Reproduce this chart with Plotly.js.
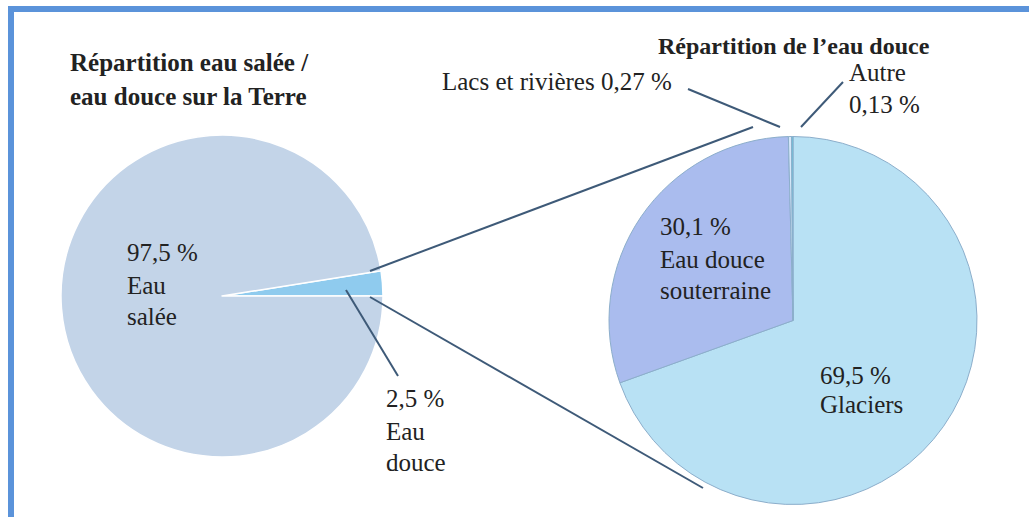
<!DOCTYPE html>
<html>
<head>
<meta charset="utf-8">
<script src="https://cdn.plot.ly/plotly-3.0.1.min.js"></script>
<style>
html,body{margin:0;padding:0;background:#fff;}
#chart{width:1029px;height:517px;}
</style>
</head>
<body>
<div id="chart"></div>
<script>
// ---- data ----
const earthLabels = ["Eau douce", "Eau salée"];
const earthValues = [2.5, 97.5];
const freshLabels = ["Glaciers", "Eau douce souterraine", "Lacs et rivières", "Autre"];
const freshValues = [69.5, 30.1, 0.27, 0.13];
const leftTitle = ["Répartition eau salée /", "eau douce sur la Terre"];
const rightTitle = "Répartition de l’eau douce";

// ---- helpers (pixel -> paper) ----
const W = 1029, H = 517;
const px = x => x / W;
const py = y => 1 - y / H;
const fmt = v => String(v).replace('.', ',') + ' %';

const serif = "Liberation Serif";
const txt = "#222222";

const traces = [
  {
    type: 'pie', values: earthValues, labels: earthLabels, sort: false,
    direction: 'clockwise', rotation: 90 - earthValues[0] * 3.6,
    marker: {colors: ['#8FCBEE', '#C3D4E8'], line: {color: '#ffffff', width: 1.5}},
    textinfo: 'none', hoverinfo: 'none', showlegend: false,
    domain: {x: [px(61), px(383)], y: [py(457), py(135)]}
  },
  {
    type: 'pie', values: freshValues, labels: freshLabels, sort: false,
    direction: 'clockwise', rotation: 0,
    marker: {colors: ['#B8E1F4', '#AABCEE', '#D5E8F8', '#5FC8DF'], line: {color: '#8CAECB', width: 1}},
    textinfo: 'none', hoverinfo: 'none', showlegend: false,
    domain: {x: [px(609), px(977)], y: [py(505), py(136)]}
  }
];

function ann(x, y, text, size) {
  return {
    xref: 'paper', yref: 'paper', x: px(x), y: py(y), text: text,
    showarrow: false, xanchor: 'left', yanchor: 'middle',
    font: {family: serif, size: size || 25, color: txt}
  };
}

const annotations = [
  ann(68, 62, '<b>' + leftTitle[0] + '</b>', 25),
  ann(68, 96, '<b>' + leftTitle[1] + '</b>', 25),
  ann(656, 46, '<b>' + rightTitle + '</b>', 24),
  ann(125, 253, fmt(earthValues[1])),
  ann(125, 285, 'Eau'),
  ann(125, 316, 'salée'),
  ann(384, 398, fmt(earthValues[0])),
  ann(384, 431, 'Eau'),
  ann(384, 462, 'douce'),
  ann(658, 227, fmt(freshValues[1])),
  ann(658, 259, 'Eau douce'),
  ann(658, 290, 'souterraine'),
  ann(818, 375, fmt(freshValues[0])),
  ann(818, 404, freshLabels[0]),
  ann(440, 81, freshLabels[2] + ' ' + fmt(freshValues[2])),
  ann(847, 73, freshLabels[3]),
  ann(847, 105, fmt(freshValues[3]))
];

function seg(x0, y0, x1, y1, w) {
  return {type: 'line', xref: 'paper', yref: 'paper', x0: px(x0), y0: py(y0), x1: px(x1), y1: py(y1),
          line: {color: '#3E5A78', width: w || 2}};
}

const shapes = [
  {type: 'rect', xref: 'paper', yref: 'paper', x0: px(11), y0: -0.05, x1: 1.05, y1: py(9),
   line: {color: '#5B93DA', width: 6}, fillcolor: 'rgba(0,0,0,0)'},
  seg(370, 271, 753, 127),
  seg(370, 297, 703, 488),
  seg(346, 290, 398, 376),
  seg(688, 89, 780, 127),
  seg(843, 82, 801, 127)
];

const layout = {
  width: W, height: H,
  margin: {l: 0, r: 0, t: 0, b: 0},
  font: {family: serif, size: 25, color: txt},
  paper_bgcolor: '#ffffff', plot_bgcolor: '#ffffff',
  showlegend: false,
  annotations: annotations,
  shapes: shapes
};

Plotly.newPlot('chart', traces, layout, {displayModeBar: false, staticPlot: true});
</script>
</body>
</html>
